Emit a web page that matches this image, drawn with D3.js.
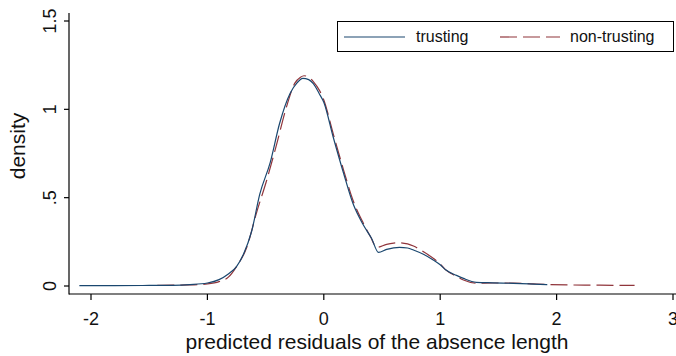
<!DOCTYPE html>
<html>
<head>
<meta charset="utf-8">
<script src="https://cdn.jsdelivr.net/npm/d3@7"></script>
<style>
  body { margin: 0; background: #fff; }
  svg { display: block; font-family: "Liberation Sans", Arial, Helvetica, sans-serif; }
</style>
</head>
<body>
<div id="chart"></div>
<script>
// kernel density estimates
var trustingX = [-2.1, -1.8, -1.5, -1.3, -1.15, -1.0, -0.9, -0.82, -0.75, -0.69, -0.62, -0.55, -0.46, -0.38, -0.29, -0.23, -0.18, -0.13, -0.09, -0.04, 0.0, 0.08, 0.17, 0.25, 0.34, 0.41, 0.47, 0.54, 0.6, 0.65, 0.72, 0.77, 0.86, 0.94, 1.0, 1.05, 1.14, 1.2, 1.31, 1.45, 1.63, 1.8, 1.92];
var trustingY = [0.002, 0.002, 0.003, 0.004, 0.008, 0.017, 0.036, 0.068, 0.11, 0.18, 0.31, 0.52, 0.70, 0.92, 1.09, 1.15, 1.175, 1.168, 1.145, 1.09, 1.04, 0.845, 0.638, 0.468, 0.345, 0.27, 0.19, 0.207, 0.216, 0.219, 0.215, 0.204, 0.178, 0.147, 0.12, 0.09, 0.06, 0.043, 0.021, 0.018, 0.015, 0.011, 0.008];
var nontrustingX = [-1.43, -1.3, -1.15, -1.0, -0.9, -0.82, -0.75, -0.66, -0.58, -0.49, -0.41, -0.32, -0.25, -0.2, -0.17, -0.13, -0.09, -0.04, 0.0, 0.08, 0.17, 0.25, 0.34, 0.4, 0.455, 0.54, 0.6, 0.65, 0.72, 0.77, 0.86, 0.94, 1.0, 1.05, 1.14, 1.2, 1.31, 1.45, 1.63, 1.8, 1.91, 2.1, 2.3, 2.5, 2.67];
var nontrustingY = [0.004, 0.005, 0.006, 0.012, 0.025, 0.05, 0.11, 0.222, 0.41, 0.6, 0.79, 1.015, 1.147, 1.182, 1.19, 1.183, 1.157, 1.11, 1.053, 0.864, 0.656, 0.487, 0.355, 0.28, 0.219, 0.236, 0.243, 0.245, 0.238, 0.226, 0.192, 0.157, 0.125, 0.09, 0.055, 0.034, 0.016, 0.017, 0.017, 0.012, 0.009, 0.006, 0.005, 0.004, 0.003];

var xTicks = [-2, -1, 0, 1, 2, 3];
var yTicks = [0, 0.5, 1, 1.5];
var yTickLabels = ["0", ".5", "1", "1.5"];
var seriesNames = ["trusting", "non-trusting"];

var w = 676, h = 356;
var navy = "#1a476f", maroon = "#90353b";

var x = d3.scaleLinear().domain([-2, 3]).range([91, 673]);
var y = d3.scaleLinear().domain([0, 1.5]).range([286, 21]);

var svg = d3.select("#chart").append("svg")
    .attr("width", w).attr("height", h);

svg.append("rect").attr("width", w).attr("height", h).attr("fill", "#fff");

// axes
var axisX = 69, axisY = 294;

svg.append("line")
    .attr("x1", axisX).attr("x2", axisX)
    .attr("y1", 13).attr("y2", axisY + 0.5)
    .attr("stroke", "#000").attr("stroke-width", 1.2);
svg.append("line")
    .attr("x1", axisX).attr("x2", w)
    .attr("y1", axisY).attr("y2", axisY)
    .attr("stroke", "#000").attr("stroke-width", 1.2);

svg.selectAll(".xtick").data(xTicks).enter().append("line")
    .attr("x1", d => x(d)).attr("x2", d => x(d))
    .attr("y1", axisY).attr("y2", axisY + 6)
    .attr("stroke", "#000").attr("stroke-width", 1.2);
svg.selectAll(".xlab").data(xTicks).enter().append("text")
    .attr("x", d => x(d)).attr("y", 325)
    .attr("text-anchor", "middle")
    .style("font-size", "18px").style("fill", "#111")
    .text(d => d);

svg.selectAll(".ytick").data(yTicks).enter().append("line")
    .attr("x1", axisX - 5).attr("x2", axisX)
    .attr("y1", d => y(d)).attr("y2", d => y(d))
    .attr("stroke", "#000").attr("stroke-width", 1.2);
svg.selectAll(".ylab").data(yTicks).enter().append("text")
    .attr("transform", d => "translate(56," + y(d) + ") rotate(-90)")
    .attr("text-anchor", "middle")
    .style("font-size", "18px").style("fill", "#111")
    .text((d, i) => yTickLabels[i]);

svg.append("text")
    .attr("x", 377).attr("y", 349)
    .attr("text-anchor", "middle")
    .style("font-size", "21px").style("fill", "#111")
    .text("predicted residuals of the absence length");

svg.append("text")
    .attr("transform", "translate(25,146) rotate(-90)")
    .attr("text-anchor", "middle")
    .style("font-size", "21px").style("fill", "#111")
    .text("density");

// curves
var line = d3.line()
    .x(d => x(d[0])).y(d => y(d[1]))
    .curve(d3.curveMonotoneX);

svg.append("path")
    .datum(d3.zip(nontrustingX, nontrustingY))
    .attr("d", line)
    .attr("fill", "none").attr("stroke", maroon).attr("stroke-width", 1.2)
    .attr("stroke-dasharray", "17,6");

svg.append("path")
    .datum(d3.zip(trustingX, trustingY))
    .attr("d", line)
    .attr("fill", "none").attr("stroke", navy).attr("stroke-width", 1.2);

// legend
var lg = svg.append("g");
lg.append("rect")
    .attr("x", 337.5).attr("y", 21.5).attr("width", 336).attr("height", 30)
    .attr("fill", "#fff").attr("stroke", "#000").attr("stroke-width", 1);
var keys = [
  {name: seriesNames[0], color: navy, dash: null, x0: 344, x1: 405, tx: 416},
  {name: seriesNames[1], color: maroon, dash: "17,6", x0: 500, x1: 560, tx: 570}
];
keys.forEach(function (k) {
    lg.append("line")
        .attr("x1", k.x0).attr("x2", k.x1).attr("y1", 37).attr("y2", 37)
        .attr("stroke", k.color).attr("stroke-width", 1.2)
        .attr("stroke-dasharray", k.dash);
    lg.append("text")
        .attr("x", k.tx).attr("y", 42)
        .style("font-size", "16px").style("fill", "#111")
        .text(k.name);
});
</script>
</body>
</html>
